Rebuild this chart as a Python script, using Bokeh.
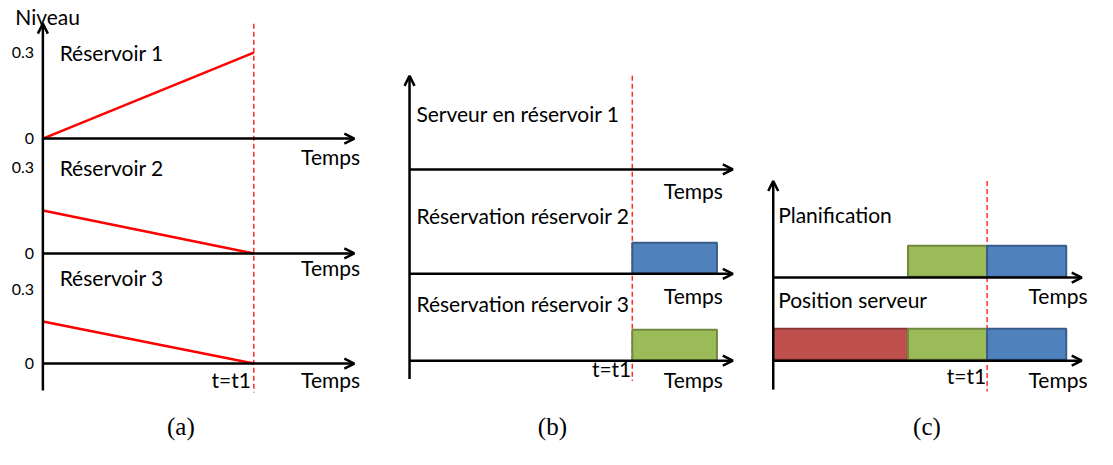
from bokeh.plotting import figure
from bokeh.models import Range1d, Arrow, OpenHead, ColumnDataSource
from bokeh.core.properties import value
from bokeh.embed import file_html
from bokeh.resources import INLINE

# ---------------- data ----------------
# panel (a): tank levels between t=0 and t=t1 (t1 = 1)
a_rows = ["Réservoir 1", "Réservoir 2", "Réservoir 3"]
a_time = [0.0, 1.0]
a_level_start = [0.0, 0.15, 0.17]
a_level_end = [0.3, 0.0, 0.0]
a_ticks = [0.0, 0.3]
a_tick_labels = ["0", "0.3"]

# panel (b): reservations (time units, t1 = 1)
b_rows = ["Serveur en réservoir 1", "Réservation réservoir 2", "Réservation réservoir 3"]
b_bar_row = [1, 2]
b_bar_start = [1.0, 1.0]
b_bar_end = [1.38, 1.38]
b_bar_kind = ["r2", "r3"]

# panel (c): planning and server position (t1 = 1)
c_rows = ["Planification", "Position serveur"]
c_bar_row = [0, 0, 1, 1, 1]
c_bar_start = [0.63, 1.0, 0.0, 0.63, 1.0]
c_bar_end = [1.0, 1.37, 0.63, 1.0, 1.37]
c_bar_kind = ["r3", "r2", "r1", "r3", "r2"]

t1 = 1.0
x_label = "Temps"
y_label = "Niveau"
t1_label = "t=t1"
captions = ["(a)", "(b)", "(c)"]

# ---------------- styles / layout ----------------
FILL = {"r1": "#C0504D", "r2": "#4F81BD", "r3": "#9BBB59"}
EDGE = {"r1": "#8C3836", "r2": "#385D8A", "r3": "#71893F"}
FONT = "Lato"
FS = "21px"
W, H = 1097, 449
# layout canvas units (scaled into the figure by the default ranges)
X_LO, X_HI, Y_TOP, Y_BOT = 0, 1113, 0, 465

A = dict(x0=43, t1px=257, xend=359, ytop=24, ybot=404, bases=[143, 262, 376], tops=[54, 173, 299])
B = dict(x0=415, t1px=641, xend=743, ytop=78, ybot=392, bases=[175, 283, 373])
C = dict(x0=784, t1px=1001, xend=1097, ytop=187, ybot=403, bases=[287, 373])
BAR_H = 32

p = figure(width=W, height=H, output_backend="svg", toolbar_location=None,
           x_range=Range1d(X_LO, X_HI), y_range=Range1d(Y_BOT, Y_TOP),
           min_border=0, outline_line_color=None)
p.axis.visible = False
p.grid.visible = False
p.background_fill_color = "white"


def add_time_range(name, P):
    k = (P["t1px"] - P["x0"]) / t1
    p.extra_x_ranges[name] = Range1d((X_LO - P["x0"]) / k, (X_HI - P["x0"]) / k)


add_time_range("ta", A)
add_time_range("tb", B)
add_time_range("tc", C)

# level scales for panel (a) rows
for i, (base, top) in enumerate(zip(A["bases"], A["tops"])):
    k = (base - top) / 0.3
    p.extra_y_ranges["lv%d" % i] = Range1d((base - Y_BOT) / k, (base - Y_TOP) / k)


def arrow(x0, y0, x1, y1):
    p.add_layout(Arrow(end=OpenHead(size=10, line_width=2.5, line_color="black"),
                       x_start=x0, y_start=y0, x_end=x1, y_end=y1,
                       line_width=2.5, line_color="black"))


def txt(x, y, s, align="left", size=FS, font=FONT):
    p.text(x=[x], y=[y], text=[s], text_align=align, text_baseline="middle",
           text_font=value(font), text_font_size=size, text_color="black")


# axes with arrows
for P in (A, B, C):
    arrow(P["x0"], P["ybot"], P["x0"], P["ytop"])
    for b in P["bases"]:
        arrow(P["x0"], b, P["xend"], b)

# t1 dashed lines
for name, P in (("ta", A), ("tb", B), ("tc", C)):
    p.segment(x0=[t1], y0=[P["ytop"]], x1=[t1], y1=[P["ybot"] + 2], x_range_name=name,
              line_color="#FF2A2A", line_width=1.5, line_dash="5 3")

# panel (a) level lines and ticks
for i in range(3):
    p.line(x=a_time, y=[a_level_start[i], a_level_end[i]], x_range_name="ta",
           y_range_name="lv%d" % i, line_color="#FF0000", line_width=2.5)
    p.text(x=[34, 34], y=a_ticks, text=a_tick_labels, y_range_name="lv%d" % i,
           text_align="right", text_baseline="middle", text_font=value(FONT),
           text_font_size="16px", text_color="black")

row_label_y_a = [54, 173, 287]
for lab, y in zip(a_rows, row_label_y_a):
    txt(60, y, lab)
for y in [162, 277, 393]:
    txt(305, y, x_label)
txt(254, 393, t1_label, align="right")
txt(15, 17, y_label)

# panel (b) bars
src_b = ColumnDataSource(dict(
    left=b_bar_start, right=b_bar_end,
    top=[B["bases"][r] - BAR_H for r in b_bar_row],
    bottom=[B["bases"][r] for r in b_bar_row],
    fill=[FILL[k] for k in b_bar_kind], edge=[EDGE[k] for k in b_bar_kind]))
p.quad(left="left", right="right", top="top", bottom="bottom", source=src_b,
       x_range_name="tb", fill_color="fill", line_color="edge", line_width=2)
for lab, y in zip(b_rows, [117, 223, 314]):
    txt(422, y, lab)
for y in [197, 306, 392]:
    txt(673, y, x_label)
txt(640, 381, t1_label, align="right")

# panel (c) bars
src_c = ColumnDataSource(dict(
    left=c_bar_start, right=c_bar_end,
    top=[C["bases"][r] - BAR_H - 1 for r in c_bar_row],
    bottom=[C["bases"][r] - 1 for r in c_bar_row],
    fill=[FILL[k] for k in c_bar_kind], edge=[EDGE[k] for k in c_bar_kind]))
p.quad(left="left", right="right", top="top", bottom="bottom", source=src_c,
       x_range_name="tc", fill_color="fill", line_color="edge", line_width=2)
for lab, y in zip(c_rows, [222, 310]):
    txt(789, y, lab)
for y in [305, 393]:
    txt(1043, y, x_label)
txt(1000, 388, t1_label, align="right")

# captions
for cap, x in zip(captions, [183, 560, 940]):
    txt(x, 441, cap, align="center", size="25px", font="Liberation Serif")

open("out.html", "w").write(file_html(p, INLINE))
